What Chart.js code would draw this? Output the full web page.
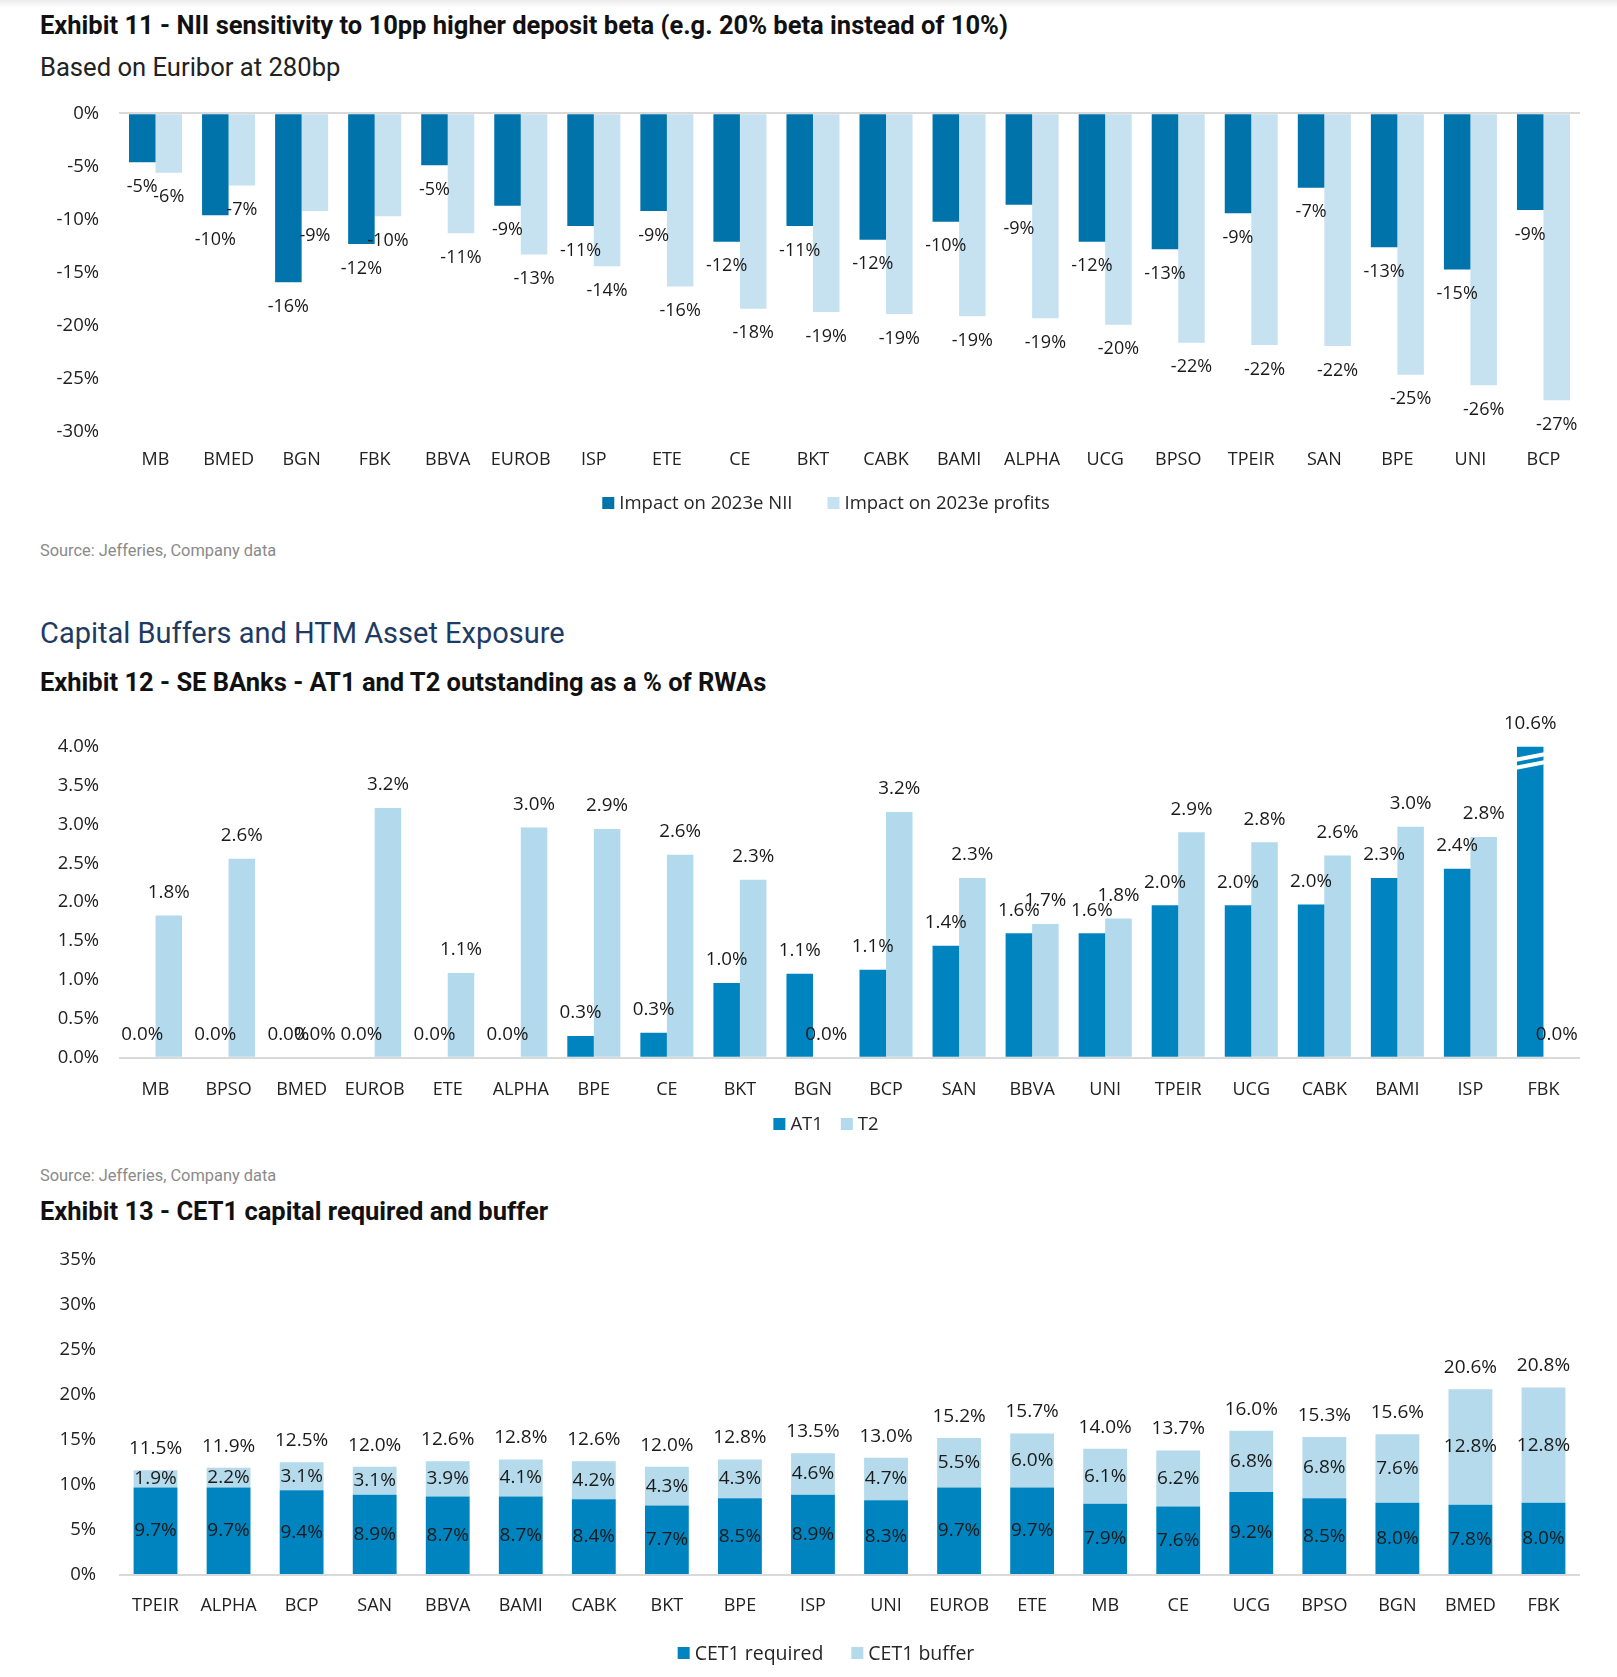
<!DOCTYPE html>
<html><head><meta charset="utf-8">
<script src="https://cdn.jsdelivr.net/npm/chart.js@4.4.1/dist/chart.umd.min.js"></script>
<style>
html,body{margin:0;padding:0;background:#fff;}
body{width:1617px;height:1677px;overflow:hidden;position:relative;font-family:Roboto,"Open Sans",sans-serif;}
.topbar{position:absolute;left:0;top:0;width:1617px;height:8px;background:linear-gradient(#ececec,#fff);}
.t{position:absolute;left:40px;white-space:nowrap;line-height:1;}
.ex{font-weight:700;font-size:25.5px;color:#111;}
.sub{font-size:25.6px;color:#222;}
.src{font-size:16.4px;color:#8a8a8a;}
.sec{font-size:29px;color:#1d3b63;}
canvas{position:absolute;left:0;}
</style>
</head><body>
<div class="topbar"></div>
<div class="t ex" style="top:12.5px">Exhibit 11 - NII sensitivity to 10pp higher deposit beta (e.g. 20% beta instead of 10%)</div>
<div class="t sub" style="top:54.8px">Based on Euribor at 280bp</div>
<canvas id="c1" width="1617" height="450" style="top:82px"></canvas>
<div class="t src" style="top:543.3px">Source: Jefferies, Company data</div>
<div class="t sec" style="top:618.7px">Capital Buffers and HTM Asset Exposure</div>
<div class="t ex" style="top:669.7px">Exhibit 12 - SE BAnks - AT1 and T2 outstanding as a % of RWAs</div>
<canvas id="c2" width="1617" height="448" style="top:700px"></canvas>
<div class="t src" style="top:1168px">Source: Jefferies, Company data</div>
<div class="t ex" style="top:1199px">Exhibit 13 - CET1 capital required and buffer</div>
<canvas id="c3" width="1617" height="455" style="top:1220px"></canvas>
<script>
// ---------- Exhibit 11 data ----------
const banks1 = ["MB","BMED","BGN","FBK","BBVA","EUROB","ISP","ETE","CE","BKT","CABK","BAMI","ALPHA","UCG","BPSO","TPEIR","SAN","BPE","UNI","BCP"];
const niiImpact = [-4.6,-9.6,-15.9,-12.3,-4.9,-8.7,-10.6,-9.2,-12.1,-10.6,-11.9,-10.2,-8.6,-12.1,-12.8,-9.4,-7.0,-12.6,-14.7,-9.1];
const profitImpact = [-5.6,-6.8,-9.2,-9.7,-11.3,-13.3,-14.4,-16.3,-18.4,-18.7,-18.9,-19.1,-19.3,-19.9,-21.6,-21.8,-21.9,-24.6,-25.6,-27.0];
const yTicks1 = [0,-5,-10,-15,-20,-25,-30];

// ---------- Exhibit 12 data ----------
const banks2 = ["MB","BPSO","BMED","EUROB","ETE","ALPHA","BPE","CE","BKT","BGN","BCP","SAN","BBVA","UNI","TPEIR","UCG","CABK","BAMI","ISP","FBK"];
const at1 = [0,0,0,0,0,0,0.28,0.32,0.96,1.08,1.13,1.44,1.6,1.6,1.96,1.96,1.97,2.31,2.43,10.6];
const t2 = [1.83,2.56,0,3.21,1.09,2.96,2.94,2.61,2.29,0,3.16,2.31,1.72,1.79,2.9,2.77,2.6,2.97,2.84,0];
const yTicks2 = [0,0.5,1,1.5,2,2.5,3,3.5,4];

// ---------- Exhibit 13 data ----------
const banks3 = ["TPEIR","ALPHA","BCP","SAN","BBVA","BAMI","CABK","BKT","BPE","ISP","UNI","EUROB","ETE","MB","CE","UCG","BPSO","BGN","BMED","FBK"];
const cet1Required = [9.7,9.7,9.4,8.9,8.7,8.7,8.4,7.7,8.5,8.9,8.3,9.7,9.7,7.9,7.6,9.2,8.5,8.0,7.8,8.0];
const cet1Buffer = [1.9,2.2,3.1,3.1,3.9,4.1,4.2,4.3,4.3,4.6,4.7,5.5,6.0,6.1,6.2,6.8,6.8,7.6,12.8,12.8];
const cet1Total = [11.5,11.9,12.5,12.0,12.6,12.8,12.6,12.0,12.8,13.5,13.0,15.2,15.7,14.0,13.7,16.0,15.3,15.6,20.6,20.8];
const yTicks3 = [0,5,10,15,20,25,30,35];

Chart.defaults.font.family = "'Open Sans', sans-serif";
Chart.defaults.font.size = 18;
Chart.defaults.color = '#222';
Chart.defaults.animation = false;

const LBL = '#1a1a1a';
const zeroGrid = (ctx) => ctx.tick && ctx.tick.value === 0 ? '#d9d9d9' : 'rgba(0,0,0,0)';

// legend drawn by a small plugin from the datasets' labels and colours
const legendPlug = {
  id: 'legendPlug',
  afterDraw(chart, args, opts) {
    const ctx = chart.ctx;
    ctx.save();
    ctx.font = opts.size + 'px "Open Sans"';
    ctx.textBaseline = 'middle';
    ctx.textAlign = 'left';
    const box = 12, g = 5;
    const items = chart.data.datasets.map(d => ({ t: d.label, c: d.backgroundColor, w: ctx.measureText(d.label).width }));
    const total = items.reduce((s, it) => s + box + g + it.w, 0) + opts.gap * (items.length - 1);
    let x = opts.cx - total / 2;
    items.forEach(it => {
      ctx.fillStyle = it.c;
      ctx.fillRect(x, opts.y - box / 2, box, box);
      ctx.fillStyle = '#262626';
      ctx.fillText(it.t, x + box + g, opts.y + 1);
      x += box + g + it.w + opts.gap;
    });
    ctx.restore();
  }
};

function baseOptions(min, max, ticks, fmt, padTop, xPad, yPad, xH, legend) {
  return {
    responsive: false,
    maintainAspectRatio: false,
    layout: { padding: { left: 0, right: 37, top: padTop, bottom: 0 } },
    plugins: {
      legend: { display: false },
      tooltip: { enabled: false },
      legendPlug: legend
    },
    scales: {
      x: {
        grid: { display: false, drawTicks: false },
        border: { display: false },
        ticks: { padding: xPad, font: { size: 18 }, color: '#222', maxRotation: 0, autoSkip: false },
        afterFit: (s) => { s.height = xH; }
      },
      y: {
        min: min, max: max,
        border: { display: false },
        grid: { color: zeroGrid, lineWidth: 2, drawTicks: false },
        afterBuildTicks: (s) => { s.ticks = ticks.map(v => ({ value: v })); },
        ticks: { padding: yPad, font: { size: 18.5 }, color: '#222', callback: fmt },
        afterFit: (s) => { s.width = 119; }
      }
    }
  };
}

// ---------- Chart 1 ----------
const plug1 = {
  id: 'plug1',
  afterDatasetsDraw(chart) {
    const ctx = chart.ctx;
    ctx.save();
    ctx.font = '18px "Open Sans"';
    ctx.fillStyle = LBL;
    ctx.textAlign = 'center';
    ctx.textBaseline = 'middle';
    chart.data.datasets.forEach((ds, i) => {
      chart.getDatasetMeta(i).data.forEach((bar, j) => {
        ctx.fillText(ds.data[j].toFixed(0) + '%', bar.x, bar.y + 24.5);
      });
    });
    ctx.restore();
  }
};
new Chart(document.getElementById('c1'), {
  type: 'bar',
  data: {
    labels: banks1,
    datasets: [
      { label: 'Impact on 2023e NII', data: niiImpact, backgroundColor: '#0073AA', categoryPercentage: 0.726, barPercentage: 1 },
      { label: 'Impact on 2023e profits', data: profitImpact, backgroundColor: '#C6E2F0', categoryPercentage: 0.726, barPercentage: 1 }
    ]
  },
  options: baseOptions(-30, 0, yTicks1, v => v + '%', 31.3, 17.5, 20, 100, { y: 421, cx: 826, gap: 35, size: 18.5 }),
  plugins: [plug1, legendPlug]
});

// ---------- Chart 2 ----------
const plug2 = {
  id: 'plug2',
  afterDatasetsDraw(chart) {
    const ctx = chart.ctx;
    const top = chart.chartArea.top;
    const ymax = chart.scales.y.max;
    ctx.save();
    chart.data.datasets.forEach((ds, i) => {
      chart.getDatasetMeta(i).data.forEach((bar, j) => {
        if (ds.data[j] > ymax) {
          const l = bar.x - bar.width / 2 - 1, r = bar.x + bar.width / 2 + 1;
          ctx.strokeStyle = '#fff';
          ctx.lineWidth = 4;
          ctx.beginPath();
          ctx.moveTo(l, top + 13); ctx.lineTo(r, top + 7.5);
          ctx.moveTo(l, top + 21); ctx.lineTo(r, top + 15.5);
          ctx.stroke();
        }
      });
    });
    ctx.font = '18.8px "Open Sans"';
    ctx.fillStyle = LBL;
    ctx.textAlign = 'center';
    ctx.textBaseline = 'middle';
    chart.data.datasets.forEach((ds, i) => {
      chart.getDatasetMeta(i).data.forEach((bar, j) => {
        const y = Math.max(bar.y, top);
        ctx.fillText(ds.data[j].toFixed(1) + '%', bar.x, y - 23);
      });
    });
    ctx.restore();
  }
};
new Chart(document.getElementById('c2'), {
  type: 'bar',
  data: {
    labels: banks2,
    datasets: [
      { label: 'AT1', data: at1, backgroundColor: '#0084C0', categoryPercentage: 0.726, barPercentage: 1 },
      { label: 'T2', data: t2, backgroundColor: '#B3DAEC', categoryPercentage: 0.726, barPercentage: 1 }
    ]
  },
  options: baseOptions(0, 4, yTicks2, v => v.toFixed(1) + '%', 46.7, 21.5, 20, 90.3, { y: 424, cx: 826, gap: 18, size: 18.5 }),
  plugins: [plug2, legendPlug]
});

// ---------- Chart 3 ----------
const plug3 = {
  id: 'plug3',
  afterDatasetsDraw(chart) {
    const ctx = chart.ctx;
    ctx.save();
    ctx.font = '19px "Open Sans"';
    ctx.fillStyle = LBL;
    ctx.textAlign = 'center';
    ctx.textBaseline = 'middle';
    chart.data.datasets.forEach((ds, i) => {
      chart.getDatasetMeta(i).data.forEach((bar, j) => {
        ctx.fillText(ds.data[j].toFixed(1) + '%', bar.x, (bar.y + bar.base) / 2);
      });
    });
    const topBars = chart.getDatasetMeta(chart.data.datasets.length - 1).data;
    topBars.forEach((bar, j) => {
      ctx.fillText(cet1Total[j].toFixed(1) + '%', bar.x, bar.y - 21.5);
    });
    ctx.restore();
  }
};
const o3 = baseOptions(0, 35, yTicks3, v => v + '%', 39.3, 20.2, 23, 100, { y: 433, cx: 826, gap: 28, size: 19.5 });
o3.scales.x.stacked = true;
o3.scales.y.stacked = true;
new Chart(document.getElementById('c3'), {
  type: 'bar',
  data: {
    labels: banks3,
    datasets: [
      { label: 'CET1 required', data: cet1Required, backgroundColor: '#0084C0', categoryPercentage: 1, barPercentage: 0.6 },
      { label: 'CET1 buffer', data: cet1Buffer, backgroundColor: '#B4DAEB', categoryPercentage: 1, barPercentage: 0.6 }
    ]
  },
  options: o3,
  plugins: [plug3, legendPlug]
});
</script>
</body></html>
